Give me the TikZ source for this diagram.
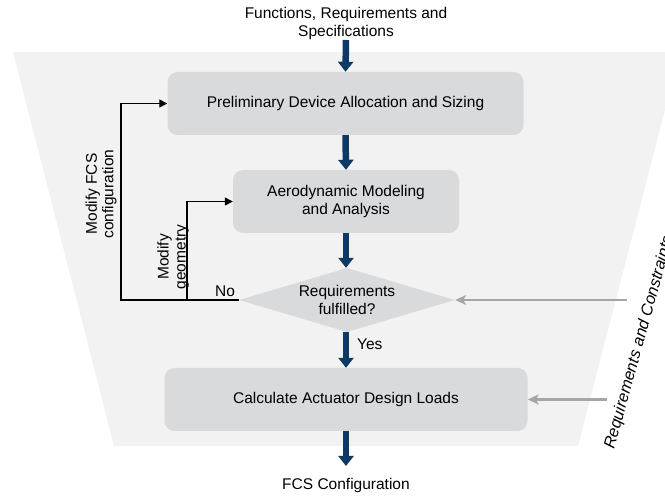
\documentclass[tikz,border=0pt]{standalone}
\usepackage{fontspec}
\setmainfont{Liberation Sans}
\usetikzlibrary{arrows.meta,shapes.geometric}
\definecolor{bgpanel}{RGB}{242,242,242}
\definecolor{stepfill}{RGB}{217,218,220}
\definecolor{flowblue}{RGB}{12,58,100}
\definecolor{inputgray}{RGB}{166,166,166}
\begin{document}
\begin{tikzpicture}[x=1pt, y=-1pt,
  font=\fontsize{15.5}{18}\selectfont,
  stepbox/.style={rectangle, rounded corners=10pt, fill=stepfill, align=center,
    minimum height=63pt, inner sep=0pt},
  decision/.style={diamond, fill=stepfill, aspect=3.4, inner sep=0pt,
    minimum width=216pt, minimum height=64pt, align=center},
  mainflow/.style={draw=flowblue, line width=6.5pt, -{Triangle[width=15pt,length=10pt]}},
  loopback/.style={draw=black, line width=1.3pt, -{Triangle[width=8pt,length=8pt]}},
  extinput/.style={draw=inputgray, line width=2.6pt, -{Stealth[width=10pt,length=11pt,inset=3pt]}},
  txt/.style={align=center, inner sep=0pt}]
\useasboundingbox (0,0) rectangle (665,497);
\clip (0,0) rectangle (665,497);

% process panel behind the flow
\fill[bgpanel] (13,52) -- (680,52) -- (578,446) -- (114,446) -- cycle;

% inputs and outputs
\node[txt] (spec) at (346,23) {Functions, Requirements and\\Specifications};
\coordinate (specEnd) at (346,40);
\node[txt] (fcs) at (346,485) {FCS Configuration};
\coordinate (fcsEnd) at (346,466);

% process steps
\node[stepbox, minimum width=356pt] (alloc) at (345.5,103.5) {Preliminary Device Allocation and Sizing};
\node[stepbox, minimum width=226pt] (aero) at (346,201.5) {Aerodynamic Modeling\\and Analysis};
\node[decision] (check) at (347,300) {Requirements\\fulfilled?};
\node[stepbox, minimum width=363pt] (loads) at (346,399.5) {Calculate Actuator Design Loads};

% main flow
\draw[mainflow] (specEnd) -- (alloc.north);
\draw[mainflow] (alloc.south) -- (aero.north);
\draw[mainflow] (aero.south) -- (check.north -| aero.south);
\draw[mainflow] (check.south -| aero.south) -- (loads.north -| aero.south);
\draw[mainflow] (loads.south -| aero.south) -- (fcsEnd);
\node[txt, anchor=west] (yes) at (357,344) {Yes};

% loops back when requirements are not met
\coordinate (outerTurn) at (121,300);
\coordinate (innerTurn) at (187,300);
\draw[loopback] (check.west) -- (outerTurn) |- (alloc.west);
\draw[loopback] (innerTurn) |- (aero.west);
\node[txt, anchor=base] (no) at (225,297) {No};
\node[txt, rotate=90, font=\fontsize{15.5}{16.5}\selectfont] (modfcs) at (101,194) {Modify FCS\\configuration};
\node[txt, rotate=90, font=\fontsize{15.5}{17}\selectfont] (modgeo) at (173,257) {Modify\\geometry};

% external requirements and constraints
\coordinate (reqA) at (627,300);
\coordinate (reqB) at (607,399.5);
\draw[extinput] (reqA) -- (check.east);
\draw[extinput] (reqB) -- (loads.east);
\node[txt, rotate=74.5, anchor=base west, font=\fontsize{16.3}{18}\selectfont\itshape] (constr) at (614,450) {Requirements and Constraints};
\end{tikzpicture}
\end{document}
